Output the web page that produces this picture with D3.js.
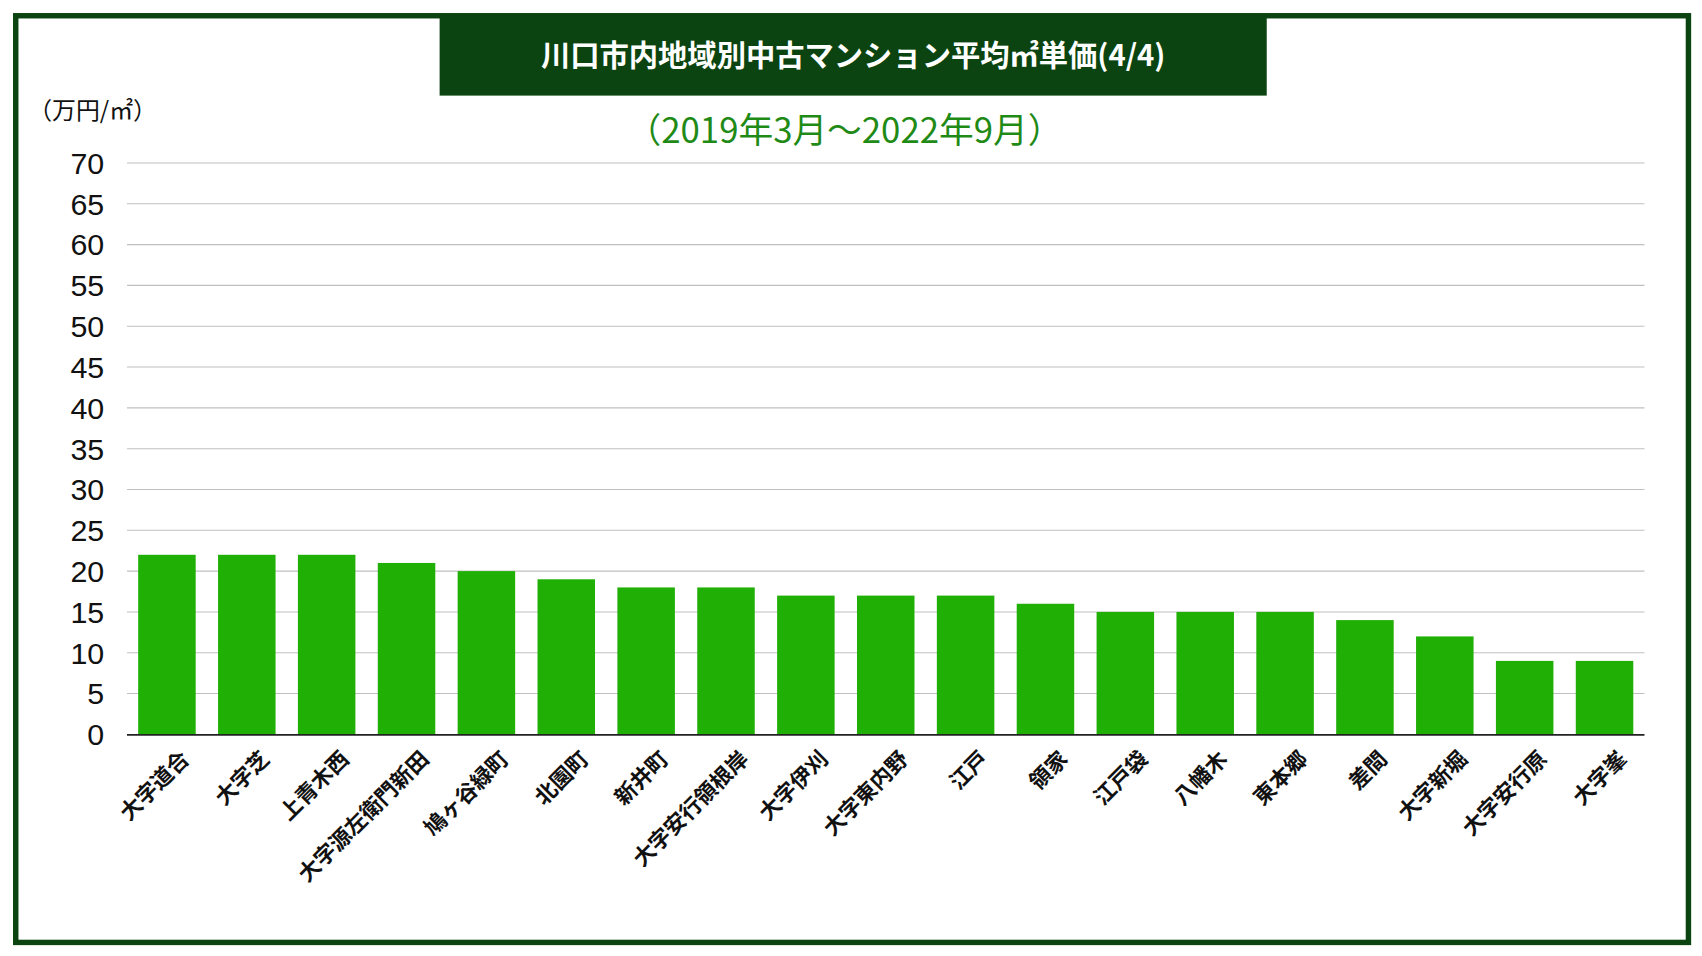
<html>
<head>
<style>
  html, body { margin: 0; padding: 0; background: #fff; }
  text { font-family: "Noto Sans CJK JP", "Noto Sans", sans-serif; }
</style>
</head>
<body>
<script src="https://d3js.org/d3.v7.min.js"></script>
<script>

    var areas = ["大字道合", "大字芝", "上青木西", "大字源左衛門新田", "鳩ヶ谷緑町", "北園町", "新井町",
        "大字安行領根岸", "大字伊刈", "大字東内野", "江戸", "領家", "江戸袋", "八幡木", "東本郷",
        "差間", "大字新堀", "大字安行原", "大字峯"];
    var prices = [22, 22, 22, 21, 20, 19, 18, 18, 17, 17, 17, 16, 15, 15, 15, 14, 12, 9, 9];
    var yTicks = d3.range(0, 71, 5);

    var W = 1568, H = 880;

    var svg = d3.select("body").append("svg")
        .attr("width", window.innerWidth).attr("height", window.innerHeight)
        .attr("viewBox", "0 0 " + W + " " + H)
        .attr("preserveAspectRatio", "none");

    // frame
    svg.append("rect").attr("x", 14.5).attr("y", 14.5).attr("width", 1541).attr("height", 853)
        .attr("fill", "#fff").attr("stroke", "#0b4410").attr("stroke-width", 5);

    // title box
    svg.append("rect").attr("x", 405).attr("y", 14).attr("width", 762).attr("height", 74).attr("fill", "#0b4410");
    svg.append("text").attr("x", 786).attr("y", 61).attr("text-anchor", "middle")
        .attr("fill", "#fff").attr("font-size", 27).attr("font-weight", "bold")
        .text("川口市内地域別中古マンション平均㎡単価(4/4)");
    svg.append("text").attr("x", 778).attr("y", 132).attr("text-anchor", "middle")
        .attr("fill", "#1f8a16").attr("font-size", 32)
        .text("（2019年3月～2022年9月）");
    svg.append("text").attr("x", 26).attr("y", 110).attr("font-size", 22).attr("fill", "#111")
        .text("（万円/㎡）");

    var x = d3.scaleBand().domain(areas).range([117, 1515]).paddingInner(0.28).paddingOuter(0.14);
    var y = d3.scaleLinear().domain([0, 70]).range([676, 150]);

    // grid
    svg.append("g").selectAll("line").data(yTicks.slice(1)).join("line")
        .attr("x1", 117).attr("x2", 1515)
        .attr("y1", function (d) { return y(d); }).attr("y2", function (d) { return y(d); })
        .attr("stroke", "#c0c0c0").attr("stroke-width", 1);

    // y labels
    svg.append("g").selectAll("text").data(yTicks).join("text")
        .attr("x", 96).attr("y", function (d) { return y(d) + 10; })
        .attr("text-anchor", "end").attr("font-size", 28).attr("fill", "#111")
        .style("font-family", "Liberation Sans, Arial, sans-serif")
        .text(function (d) { return d; });

    // bars
    svg.append("g").selectAll("rect").data(prices).join("rect")
        .attr("x", function (d, i) { return x(areas[i]); })
        .attr("width", x.bandwidth())
        .attr("y", function (d) { return y(d); })
        .attr("height", function (d) { return y(0) - y(d); })
        .attr("fill", "#1faf05");

    // baseline
    svg.append("line").attr("x1", 117).attr("x2", 1515).attr("y1", 676.5).attr("y2", 676.5)
        .attr("stroke", "#222").attr("stroke-width", 1.5);

    // x labels
    svg.append("g").selectAll("text").data(areas).join("text")
        .attr("transform", function (d) {
            return "translate(" + (x(d) + x.bandwidth() / 2 + 12) + ",690) rotate(-45)";
        })
        .attr("text-anchor", "end").attr("dy", "0.7em")
        .attr("font-size", 20).attr("font-weight", "bold").attr("fill", "#111")
        .text(function (d) { return d; });

</script>
</body>
</html>
